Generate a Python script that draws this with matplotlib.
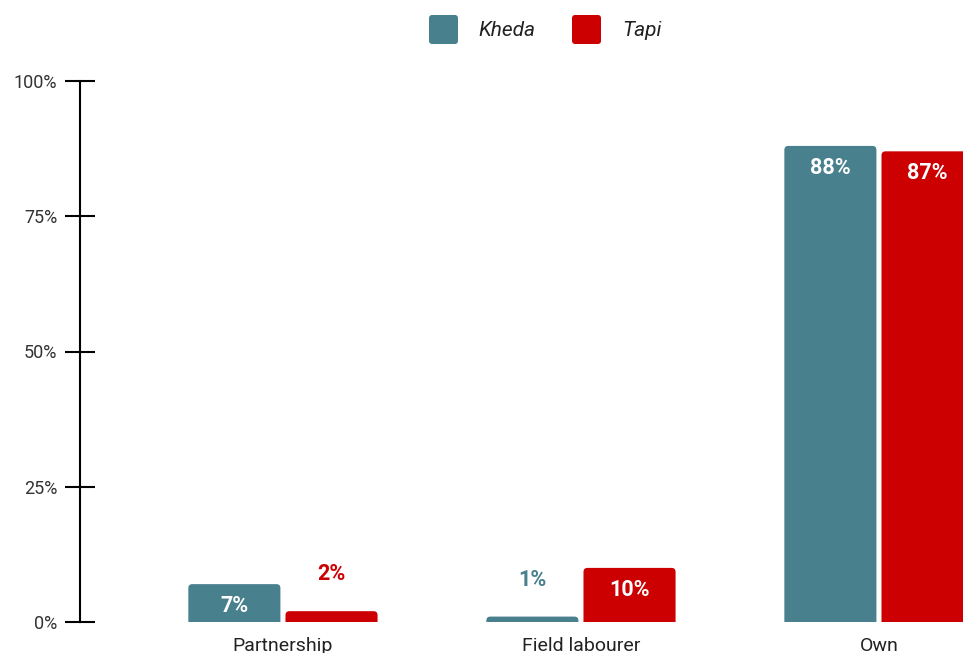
import matplotlib
matplotlib.use("Agg")
import matplotlib.pyplot as plt
from matplotlib.patches import FancyBboxPatch
import numpy as np

plt.rcParams["font.family"] = ["Roboto", "DejaVu Sans"]

categories = ["Partnership", "Field labourer", "Own"]
series_names = ["Kheda", "Tapi"]
kheda = [7, 1, 88]
tapi = [2, 10, 87]
y_ticks = [0, 25, 50, 75, 100]
y_tick_labels = ["0%", "25%", "50%", "75%", "100%"]

colors = {"Kheda": "#48808e", "Tapi": "#cc0000"}

W, H = 963, 653
fig = plt.figure(figsize=(W / 100, H / 100), dpi=100)
ax = fig.add_axes([80 / W, 31 / H, 1 - 80 / W, 541 / H])

x = np.arange(len(categories))
bar_w = 0.309
offset = 0.163
xlim = (-0.681, 2.282)
ax.set_xlim(*xlim)
ax.set_ylim(0, 100)

# pixels per data unit, used to keep the corner rounding circular
px_x = (W - 80) / (xlim[1] - xlim[0])
px_y = 541 / 100
radius_px = 4


def rounded_bar(xc, value, color):
    r = radius_px / px_x
    patch = FancyBboxPatch(
        (xc - bar_w / 2, -3), bar_w, value + 3,
        boxstyle=f"round,pad=0,rounding_size={r}",
        mutation_aspect=px_x / px_y,
        facecolor=color, edgecolor="none", clip_on=True,
    )
    ax.add_patch(patch)


def value_label(xc, value, color):
    if value >= 5:
        ax.annotate(f"{value}%", (xc, value), xytext=(0, -22),
                    textcoords="offset pixels", ha="center", va="center",
                    color="white", fontsize=15.5, fontweight="bold")
    else:
        ax.annotate(f"{value}%", (xc, value), xytext=(0, 37),
                    textcoords="offset pixels", ha="center", va="center",
                    color=color, fontsize=15.5, fontweight="bold")


for name, vals, dx in [("Kheda", kheda, -offset), ("Tapi", tapi, offset)]:
    for xi, v in zip(x, vals):
        rounded_bar(xi + dx, v, colors[name])
        value_label(xi + dx, v, colors[name])

ax.set_xticks(x)
ax.set_xticklabels(categories, fontsize=14, color="#222222")
ax.tick_params(axis="x", length=0, pad=10.5)

ax.set_yticks(y_ticks)
ax.set_yticklabels(y_tick_labels, fontsize=13, color="#333333")
ax.tick_params(axis="y", direction="inout", length=21.6, width=1.5,
               pad=5.5, color="black")

for s in ["top", "right", "bottom"]:
    ax.spines[s].set_visible(False)
ax.spines["left"].set_linewidth(1.5)
ax.spines["left"].set_color("black")
ax.spines["left"].set_bounds(0, 100)

# legend drawn in figure pixels
legend_items = [("Kheda", 429, 478), ("Tapi", 572, 622)]
for name, sx, tx in legend_items:
    box = FancyBboxPatch(
        (sx / W, 1 - 44 / H), 29 / W, 29 / H,
        boxstyle=f"round,pad=0,rounding_size={3 / W}",
        mutation_aspect=W / H,
        transform=fig.transFigure, facecolor=colors[name], edgecolor="none",
    )
    fig.patches.append(box)
    fig.text(tx / W, 1 - 30 / H, name, fontsize=15, style="italic",
             color="#222222", ha="left", va="center")

fig.savefig("out.png", dpi=100)
